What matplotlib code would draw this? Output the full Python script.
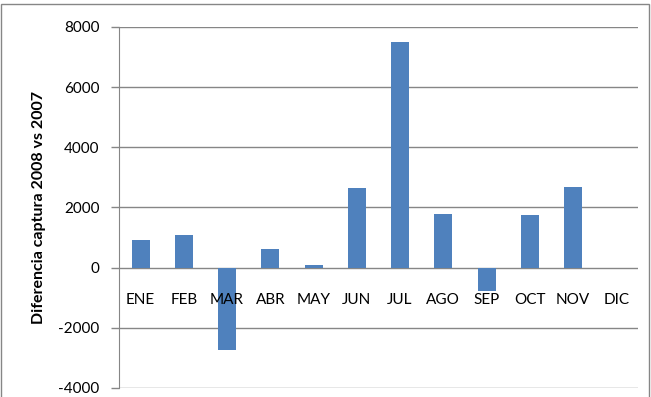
import matplotlib
matplotlib.use("Agg")
import matplotlib.pyplot as plt
from matplotlib.patches import Rectangle

# monthly difference in catch, 2008 vs 2007
meses = ['ENE', 'FEB', 'MAR', 'ABR', 'MAY', 'JUN', 'JUL', 'AGO', 'SEP', 'OCT', 'NOV', 'DIC']
diferencia = [930, 1100, -2750, 630, 90, 2650, 7500, 1780, -780, 1740, 2680, 0]
y_ticks = [-4000, -2000, 0, 2000, 4000, 6000, 8000]

plt.rcParams['font.family'] = ['Lato', 'DejaVu Sans']

fig = plt.figure(figsize=(6.51, 3.97), dpi=100)
ax = fig.add_axes([0.1828, 0.0227, 0.7972, 0.9093])

x = list(range(len(meses)))
ax.bar(x, diferencia, width=0.42, color='#4F81BD', zorder=3)

ax.set_xlim(-0.5, len(meses) - 0.5)
ax.set_ylim(-4000, 8000)
ax.set_yticks(y_ticks)
ax.set_yticklabels([str(v) for v in y_ticks], fontsize=11)
ax.yaxis.grid(True, color='#868686', linewidth=1.0, zorder=0)
ax.set_axisbelow(True)
ax.tick_params(axis='y', length=6, width=1, color='#868686', pad=8)

# month names sit just under the zero line, like the category axis
ax.set_xticks([])
for i, m in enumerate(meses):
    ax.annotate(m, (i, 0), xytext=(0, -28), textcoords='offset points',
                ha='center', va='bottom', fontsize=11, zorder=4)

for s in ['top', 'right', 'bottom']:
    ax.spines[s].set_visible(False)
ax.spines['left'].set_color('#868686')

ax.set_ylabel('Diferencia captura 2008 vs 2007', fontsize=11.5, fontweight='bold', labelpad=9)

# chart area border
fig.patches.append(Rectangle((0.0015, -0.01), 0.995, 1.0, transform=fig.transFigure,
                             fill=False, edgecolor='#868686', linewidth=1.0))

fig.savefig('out.png', dpi=100)
